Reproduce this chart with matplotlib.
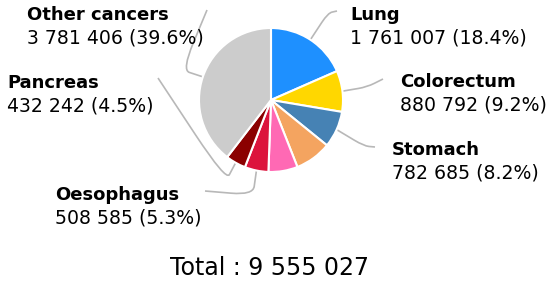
import numpy as np
import matplotlib
matplotlib.use("Agg")
import matplotlib.pyplot as plt
from matplotlib.path import Path
from matplotlib.patches import PathPatch

categories = ["Lung", "Colorectum", "Stomach", "Liver", "Breast", "Oesophagus", "Pancreas", "Other cancers"]
values = [1761007, 880792, 782685, 781631, 626679, 508585, 432242, 3781406]
percents = [18.4, 9.2, 8.2, 8.2, 6.6, 5.3, 4.5, 39.6]
total = 9555027
colors = ["#1E90FF", "#FFD700", "#4682B4", "#F4A460", "#FF69B4", "#DC143C", "#8B0000", "#CCCCCC"]
labeled = ["Lung", "Colorectum", "Stomach", "Oesophagus", "Pancreas", "Other cancers"]

W, H = 550, 281
fig = plt.figure(figsize=(5.5, 2.81), dpi=100)
ax = fig.add_axes([0, 0, 1, 1])

def P(x, y):
    return (x, H - y)

cx, cy = P(271, 100)
R = 72
wedges, _ = ax.pie(values, colors=colors, startangle=90, counterclock=False,
                   center=(cx, cy), radius=R, frame=True,
                   wedgeprops=dict(edgecolor="white", linewidth=1.5))
ax.set_xlim(0, W)
ax.set_ylim(0, H)
ax.set_aspect("equal")
ax.axis("off")

def fmt(v):
    return f"{v:,}".replace(",", " ")

# label layout: (text x, text y of name), leader elbow, leader end (pixel coords)
layout = {
    "Lung": ((350, 15), [(328, 13)], (337, 11)),
    "Colorectum": ((400, 82), [(367, 87)], (383, 79)),
    "Stomach": ((392, 150), [(364, 146)], (375, 147)),
    "Oesophagus": ((55, 195), [(253, 195)], (205, 191)),
    "Pancreas": ((7, 83), [(226, 181)], (158, 78)),
    "Other cancers": ((27, 15), [(182, 70)], (207, 10)),
}

lc = "#B8B8B8"
for name, w in zip(categories, wedges):
    if name not in layout:
        continue
    i = categories.index(name)
    (tx, ty), elbows, end = layout[name]
    mid = np.deg2rad((w.theta1 + w.theta2) / 2)
    a = (cx + R * np.cos(mid), cy + R * np.sin(mid))
    b = P(*elbows[0])
    c = P(*end)
    def lerp(p, q, t):
        return (p[0] + (q[0] - p[0]) * t, p[1] + (q[1] - p[1]) * t)
    b1 = lerp(b, a, 0.35)
    b2 = lerp(b, c, 0.45)
    path = Path([a, b1, b, b2, c],
                [Path.MOVETO, Path.LINETO, Path.CURVE3, Path.CURVE3, Path.LINETO])
    ax.add_patch(PathPatch(path, facecolor="none", edgecolor=lc, linewidth=1.2, zorder=0))
    ax.text(*P(tx, ty), name, fontsize=13, fontweight="bold", ha="left", va="center",
            family="DejaVu Sans")
    ax.text(*P(tx, ty + 23), f"{fmt(values[i])} ({percents[i]}%)", fontsize=13.6,
            ha="left", va="center", family="DejaVu Sans")

ax.text(*P(270, 268), f"Total : {fmt(total)}", fontsize=17, ha="center", va="center",
        family="DejaVu Sans")

fig.savefig("out.png", dpi=100)
